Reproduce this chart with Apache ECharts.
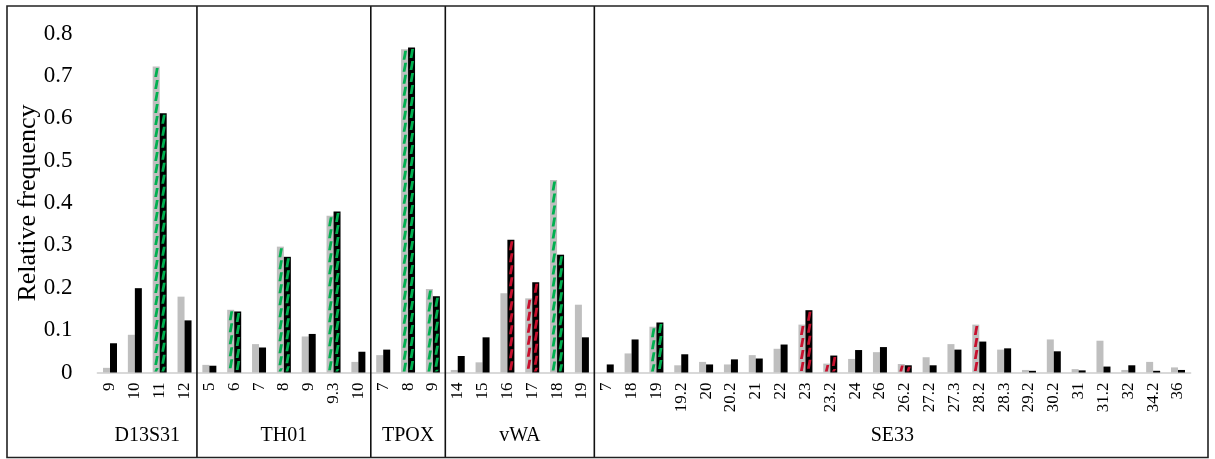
<!DOCTYPE html>
<html>
<head>
<meta charset="utf-8">
<script src="https://cdn.jsdelivr.net/npm/echarts@6/dist/echarts.min.js"></script>
<style>
html,body{margin:0;padding:0;background:#fff;}
#chart{width:1215px;height:459px;}
</style>
</head>
<body>
<div id="chart"></div>
<script>
// ---- data ----
const categories = ['9','10','11','12',
  '5','6','7','8','9','9.3','10',
  '7','8','9',
  '14','15','16','17','18','19',
  '7','18','19','19.2','20','20.2','21','22','23','23.2','24','26','26.2','27.2','27.3','28.2','28.3','29.2','30.2','31','31.2','32','34.2','36'];
const groupNames = ['D13S31','TH01','TPOX','vWA','SE33'];
const groupSizes = [4, 7, 3, 6, 24];
const grayValues = [0.011,0.089,0.722,0.179,
  0.018,0.148,0.067,0.297,0.085,0.370,0.025,
  0.041,0.763,0.197,
  0.006,0.024,0.187,0.175,0.454,0.160,
  0,0.045,0.108,0.017,0.025,0.019,0.041,0.056,0.113,0.021,0.032,0.048,0.020,0.036,0.067,0.113,0.054,0.006,0.078,0.008,0.075,0.006,0.025,0.012];
const blackValues = [0.069,0.199,0.612,0.123,
  0.016,0.144,0.059,0.273,0.091,0.380,0.049,
  0.054,0.767,0.180,
  0.039,0.083,0.313,0.213,0.278,0.083,
  0.019,0.078,0.118,0.043,0.019,0.031,0.033,0.066,0.147,0.040,0.053,0.060,0.017,0.017,0.054,0.073,0.057,0.004,0.050,0.005,0.014,0.017,0.004,0.006];
// pattern overlay per bar: '' none, 'G' green dashes, 'R' red dashes
const grayPattern = ['','','G','',
  '','G','','G','','G','',
  '','G','G',
  '','','','R','G','',
  '','','G','','','','','','R','R','','','R','','','R','','','','','','','',''];
const blackPattern = ['','','G','',
  '','G','','G','','G','',
  '','G','G',
  '','','R','R','G','',
  '','','G','','','','','','R','R','','','R','','','','','','','','','','',''];
const yTicks = [0, 0.1, 0.2, 0.3, 0.4, 0.5, 0.6, 0.7, 0.8];

// ---- styles ----
const GRAY = '#bfbfbf', BLACK = '#000000', GREEN = '#00b050', RED = '#c8102e';
const BAR_W = 7;
const FONT = '"Liberation Serif","DejaVu Serif",serif';

// pattern data: [catIndex, value, which(0 gray/1 black), colorCode]
const patternData = [];
categories.forEach((c, i) => {
  if (grayPattern[i]) patternData.push([i, grayValues[i], 0, grayPattern[i] === 'G' ? 0 : 1]);
  if (blackPattern[i]) patternData.push([i, blackValues[i], 1, blackPattern[i] === 'G' ? 0 : 1]);
});
// group data: [startIndex, endIndex, groupIndex]
const groupData = [];
let acc = 0;
groupSizes.forEach((n, gi) => { groupData.push([acc, acc + n - 1, gi]); acc += n; });

const chart = echarts.init(document.getElementById('chart'), null, {renderer: 'canvas'});
chart.setOption({
  animation: false,
  backgroundColor: '#fff',
  grid: {left: 97.6, right: 24.6, top: 33.5, bottom: 86.5, containLabel: false},
  xAxis: {
    type: 'category',
    data: categories,
    axisLine: {show: true, lineStyle: {color: '#d9d9d9', width: 2}},
    axisTick: {show: false},
    axisLabel: {rotate: 90, interval: 0, margin: 10, fontFamily: FONT, fontSize: 17, color: '#000'},
    splitLine: {show: false}
  },
  yAxis: {
    type: 'value',
    min: yTicks[0], max: yTicks[yTicks.length - 1], interval: 0.1,
    name: 'Relative frequency',
    nameLocation: 'middle',
    nameGap: 56,
    nameMoveOverlap: false,
    nameTextStyle: {fontFamily: FONT, fontSize: 26, color: '#000'},
    axisLine: {show: false},
    axisTick: {show: false},
    splitLine: {show: false},
    axisLabel: {margin: 25, fontFamily: FONT, fontSize: 23, color: '#000'}
  },
  graphic: [{
    type: 'rect', z: 100,
    shape: {x: 7, y: 6, width: 1201, height: 451.5},
    style: {fill: 'none', stroke: '#222', lineWidth: 1.6}
  }],
  series: [
    {type: 'bar', data: grayValues, barWidth: BAR_W, barGap: '0%', itemStyle: {color: GRAY}, z: 2},
    {type: 'bar', data: blackValues, barWidth: BAR_W, barGap: '0%', itemStyle: {color: BLACK}, z: 2},
    {
      type: 'custom', data: patternData, z: 3, silent: true,
      encode: {x: 0, y: 1},
      renderItem: function (params, api) {
        const idx = api.value(0), val = api.value(1), which = api.value(2), ci = api.value(3);
        const base = api.coord([idx, 0]);
        const top = api.coord([idx, val]);
        const cx = base[0] + (which === 0 ? -BAR_W / 2 : BAR_W / 2) + 0.3;
        const color = ci === 0 ? GREEN : RED;
        const children = [];
        const DASH = 9, GAP = 3, hw = 1.4, s = 0.8;
        const yEnd = base[1] - 1;
        for (let y = top[1] + 1.5; y < yEnd - 0.5; y += DASH + GAP) {
          const y2 = Math.min(y + DASH, yEnd);
          children.push({
            type: 'polygon',
            shape: {points: [[cx - hw + s, y], [cx + hw + s, y], [cx + hw - s, y2], [cx - hw - s, y2]]},
            style: {fill: color}
          });
        }
        return {type: 'group', children: children};
      }
    },
    {
      type: 'custom', data: groupData, z: 4, silent: true,
      encode: {x: 0},
      renderItem: function (params, api) {
        const s = api.value(0), e = api.value(1), gi = api.value(2);
        const band = api.size([1, 0])[0];
        const p0 = api.coord([s, 0]), p1 = api.coord([e, 0]);
        const l = p0[0] - band / 2, r = p1[0] + band / 2;
        const children = [{
          type: 'text',
          style: {text: groupNames[gi], x: (l + r) / 2, y: 436, align: 'center', verticalAlign: 'middle',
            font: '20px ' + FONT, fill: '#000'}
        }];
        if (gi < groupNames.length - 1) {
          children.push({type: 'line', shape: {x1: r, y1: 6, x2: r, y2: 458},
            style: {stroke: '#111', lineWidth: 1.6}});
        }
        return {type: 'group', children: children};
      }
    }
  ]
});
</script>
</body>
</html>
